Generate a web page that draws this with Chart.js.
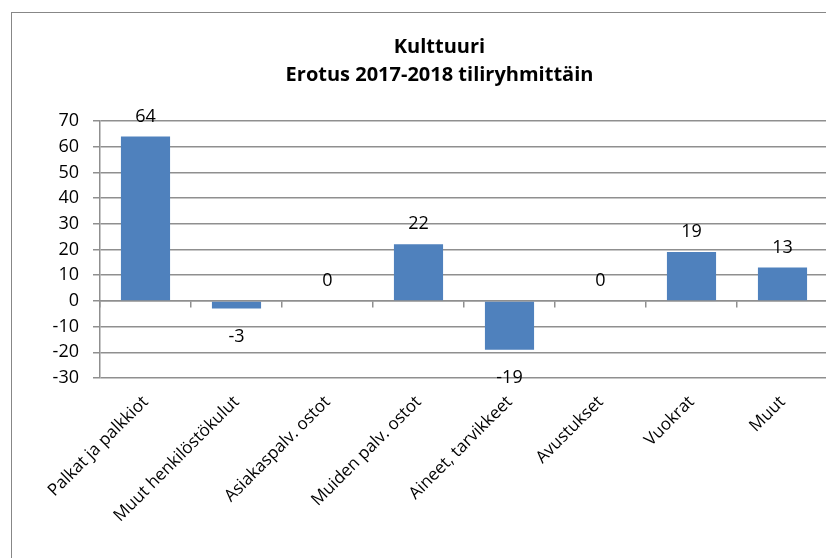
<!DOCTYPE html>
<html>
<head>
<meta charset="utf-8">
<script src="https://cdn.jsdelivr.net/npm/chart.js@4"></script>
<style>
  html, body { margin: 0; padding: 0; background: #fff; overflow: hidden; }
  #frame { position: absolute; left: 11px; top: 12px; width: 855px; height: 560px; border: 1px solid #878787; background: #fff; }
  #myChart { position: absolute; left: 0; top: 0; }
</style>
</head>
<body>
<div id="frame"><canvas id="myChart" width="855" height="545"></canvas></div>
<script>
`use strict`

// chart data
const titleLines = ['Kulttuuri', 'Erotus 2017-2018 tiliryhmittäin'];
const categories = ['Palkat ja palkkiot', 'Muut henkilöstökulut', 'Asiakaspalv. ostot', 'Muiden palv. ostot', 'Aineet, tarvikkeet', 'Avustukset', 'Vuokrat', 'Muut'];
const values = [64, -3, 0, 22, -19, 0, 19, 13];
const yTicks = [-30, -20, -10, 0, 10, 20, 30, 40, 50, 60, 70];

const gridGray = '#8f8f8f';

//Draw value labels above / below each bar
const valueLabels = {
  id: 'valueLabels',
  afterDatasetsDraw(chart) {
    const ctx = chart.ctx;
    const meta = chart.getDatasetMeta(0);
    ctx.save();
    ctx.font = '18px "Open Sans"';
    ctx.fillStyle = '#000';
    ctx.textAlign = 'center';
    ctx.textBaseline = 'middle';
    meta.data.forEach((bar, i) => {
      const v = values[i];
      const y = v < 0 ? bar.y + 28 : bar.y - 20;
      ctx.fillText(String(v), bar.x, y);
    });
    ctx.restore();
  }
};

function chartResults() {
  const ctx = document.getElementById('myChart').getContext('2d');
  const myChart = new Chart(ctx, {
    type: 'bar',
    data: {
      labels: categories,
      datasets: [{
        data: values,
        backgroundColor: '#4F81BD',
        borderWidth: 0,
        barPercentage: 0.54,
        categoryPercentage: 1
      }]
    },
    options: {
      responsive: false,
      animation: false,
      // equal side padding keeps the title centred on the whole frame
      layout: { padding: { left: 39, right: 39, top: 0, bottom: 0 } },
      plugins: {
        legend: { display: false },
        tooltip: { enabled: false },
        title: {
          display: true,
          text: titleLines,
          color: '#000',
          font: { family: 'Open Sans', size: 20, weight: 'bold', lineHeight: 1.4 },
          padding: { top: 20, bottom: 32 }
        }
      },
      scales: {
        x: {
          position: 'bottom',
          grid: { display: false },
          border: { display: false },
          ticks: {
            color: '#000',
            font: { family: 'Open Sans', size: 17 },
            minRotation: 45,
            maxRotation: 45,
            autoSkip: false,
            padding: 6
          },
          afterFit(scale) { scale.height = 180; }
        },
        x0: {
          type: 'category',
          position: { y: 0 },
          offset: true,
          grid: { offset: true, drawOnChartArea: false, drawTicks: true, tickLength: 6, color: gridGray, lineWidth: 1.5 },
          border: { display: true, color: gridGray, width: 1.5 },
          ticks: { display: false }
        },
        y: {
          min: -30,
          max: 70,
          afterBuildTicks(scale) { scale.ticks = yTicks.map(v => ({ value: v })); },
          grid: { color: gridGray, tickLength: 7, lineWidth: 1.5 },
          border: { display: true, color: gridGray, width: 1.5 },
          ticks: {
            color: '#000',
            font: { family: 'Open Sans', size: 18 },
            padding: 14
          },
          afterFit(scale) { scale.width = 49; }
        }
      }
    },
    plugins: [valueLabels]
  });
}

//Run chart function
chartResults();
</script>
</body>
</html>
